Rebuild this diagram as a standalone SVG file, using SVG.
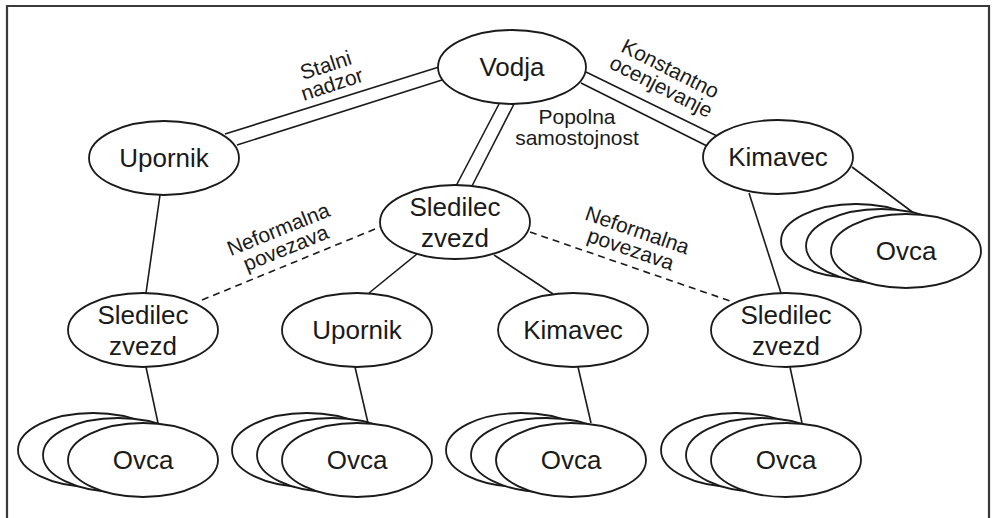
<svg xmlns="http://www.w3.org/2000/svg" width="992" height="518" viewBox="0 0 992 518">
<style>
.n{fill:#fff;stroke:#1a1a1a;stroke-width:1.8}
.t{font-family:"Liberation Sans",Arial,sans-serif;font-size:26px;fill:#1a1a1a;text-anchor:middle}
.l{font-family:"Liberation Sans",Arial,sans-serif;font-size:21px;fill:#1a1a1a;text-anchor:middle}
.c line{stroke:#1a1a1a;stroke-width:1.6}
.c .d{stroke-dasharray:7 5}
</style>
<rect x="0" y="0" width="992" height="518" fill="#fff"/>
<path d="M7,518 V6 H989 V518" fill="none" stroke="#3a3a3a" stroke-width="2.2"/>
<g id="connectors" class="c">
<line x1="225" y1="134" x2="439" y2="67"/>
<line x1="237" y1="145" x2="442" y2="80"/>
<line x1="586" y1="72" x2="717" y2="136"/>
<line x1="581" y1="83" x2="707" y2="146"/>
<line x1="499" y1="104" x2="456" y2="186"/>
<line x1="514" y1="104" x2="472" y2="186"/>
<line x1="160" y1="195" x2="146" y2="293"/>
<line x1="749" y1="193" x2="781" y2="293"/>
<line x1="852" y1="167" x2="915" y2="214"/>
<line x1="417" y1="254" x2="369" y2="293"/>
<line x1="494" y1="255" x2="553" y2="294"/>
<line x1="146" y1="367" x2="158" y2="423"/>
<line x1="355" y1="367" x2="368" y2="423"/>
<line x1="578" y1="367" x2="591" y2="423"/>
<line x1="790" y1="367" x2="802" y2="423"/>
<line class="d" x1="202" y1="300" x2="380" y2="227"/>
<line class="d" x1="530" y1="232" x2="733" y2="302"/>
</g>
<g id="labels">
<g transform="translate(328,72) rotate(-18)"><text class="l" x="0" y="0">Stalni</text><text class="l" x="0" y="20">nadzor</text></g>
<g transform="translate(667,75) rotate(27)"><text class="l" x="0" y="0">Konstantno</text><text class="l" x="0" y="20">ocenjevanje</text></g>
<text class="l" x="577" y="124">Popolna</text><text class="l" x="577" y="145">samostojnost</text>
<g transform="translate(281,236) rotate(-22)"><text class="l" x="0" y="0">Neformalna</text><text class="l" x="0" y="20">povezava</text></g>
<g transform="translate(635,237) rotate(19)"><text class="l" x="0" y="0">Neformalna</text><text class="l" x="0" y="20">povezava</text></g>
</g>
<g id="vodja"><ellipse class="n" cx="512" cy="67" rx="74" ry="37"/><text class="t" x="512" y="76">Vodja</text></g>
<g id="upornik1"><ellipse class="n" cx="164" cy="158" rx="75" ry="37"/><text class="t" x="164" y="167">Upornik</text></g>
<g id="kimavec1"><ellipse class="n" cx="778" cy="157" rx="75" ry="37"/><text class="t" x="778" y="166">Kimavec</text></g>
<g id="sledilec0"><ellipse class="n" cx="455" cy="222" rx="75" ry="37"/><text class="t" x="455" y="216">Sledilec</text><text class="t" x="455" y="247">zvezd</text></g>
<g id="ovca0"><ellipse class="n" cx="856" cy="241" rx="75" ry="37"/><ellipse class="n" cx="881" cy="246" rx="75" ry="37"/><ellipse class="n" cx="906" cy="251" rx="75" ry="37"/><text class="t" x="906" y="260">Ovca</text></g>
<g id="sledilec1"><ellipse class="n" cx="143" cy="330" rx="75" ry="37"/><text class="t" x="143" y="324">Sledilec</text><text class="t" x="143" y="355">zvezd</text></g>
<g id="upornik2"><ellipse class="n" cx="357" cy="330" rx="75" ry="37"/><text class="t" x="357" y="339">Upornik</text></g>
<g id="kimavec2"><ellipse class="n" cx="573" cy="330" rx="75" ry="37"/><text class="t" x="573" y="339">Kimavec</text></g>
<g id="sledilec2"><ellipse class="n" cx="786" cy="330" rx="75" ry="37"/><text class="t" x="786" y="324">Sledilec</text><text class="t" x="786" y="355">zvezd</text></g>
<g id="ovca1"><ellipse class="n" cx="93" cy="450" rx="75" ry="37"/><ellipse class="n" cx="118" cy="455" rx="75" ry="37"/><ellipse class="n" cx="143" cy="460" rx="75" ry="37"/><text class="t" x="143" y="469">Ovca</text></g>
<g id="ovca2"><ellipse class="n" cx="307" cy="450" rx="75" ry="37"/><ellipse class="n" cx="332" cy="455" rx="75" ry="37"/><ellipse class="n" cx="357" cy="460" rx="75" ry="37"/><text class="t" x="357" y="469">Ovca</text></g>
<g id="ovca3"><ellipse class="n" cx="521" cy="450" rx="75" ry="37"/><ellipse class="n" cx="546" cy="455" rx="75" ry="37"/><ellipse class="n" cx="571" cy="460" rx="75" ry="37"/><text class="t" x="571" y="469">Ovca</text></g>
<g id="ovca4"><ellipse class="n" cx="736" cy="450" rx="75" ry="37"/><ellipse class="n" cx="761" cy="455" rx="75" ry="37"/><ellipse class="n" cx="786" cy="460" rx="75" ry="37"/><text class="t" x="786" y="469">Ovca</text></g>
</svg>
